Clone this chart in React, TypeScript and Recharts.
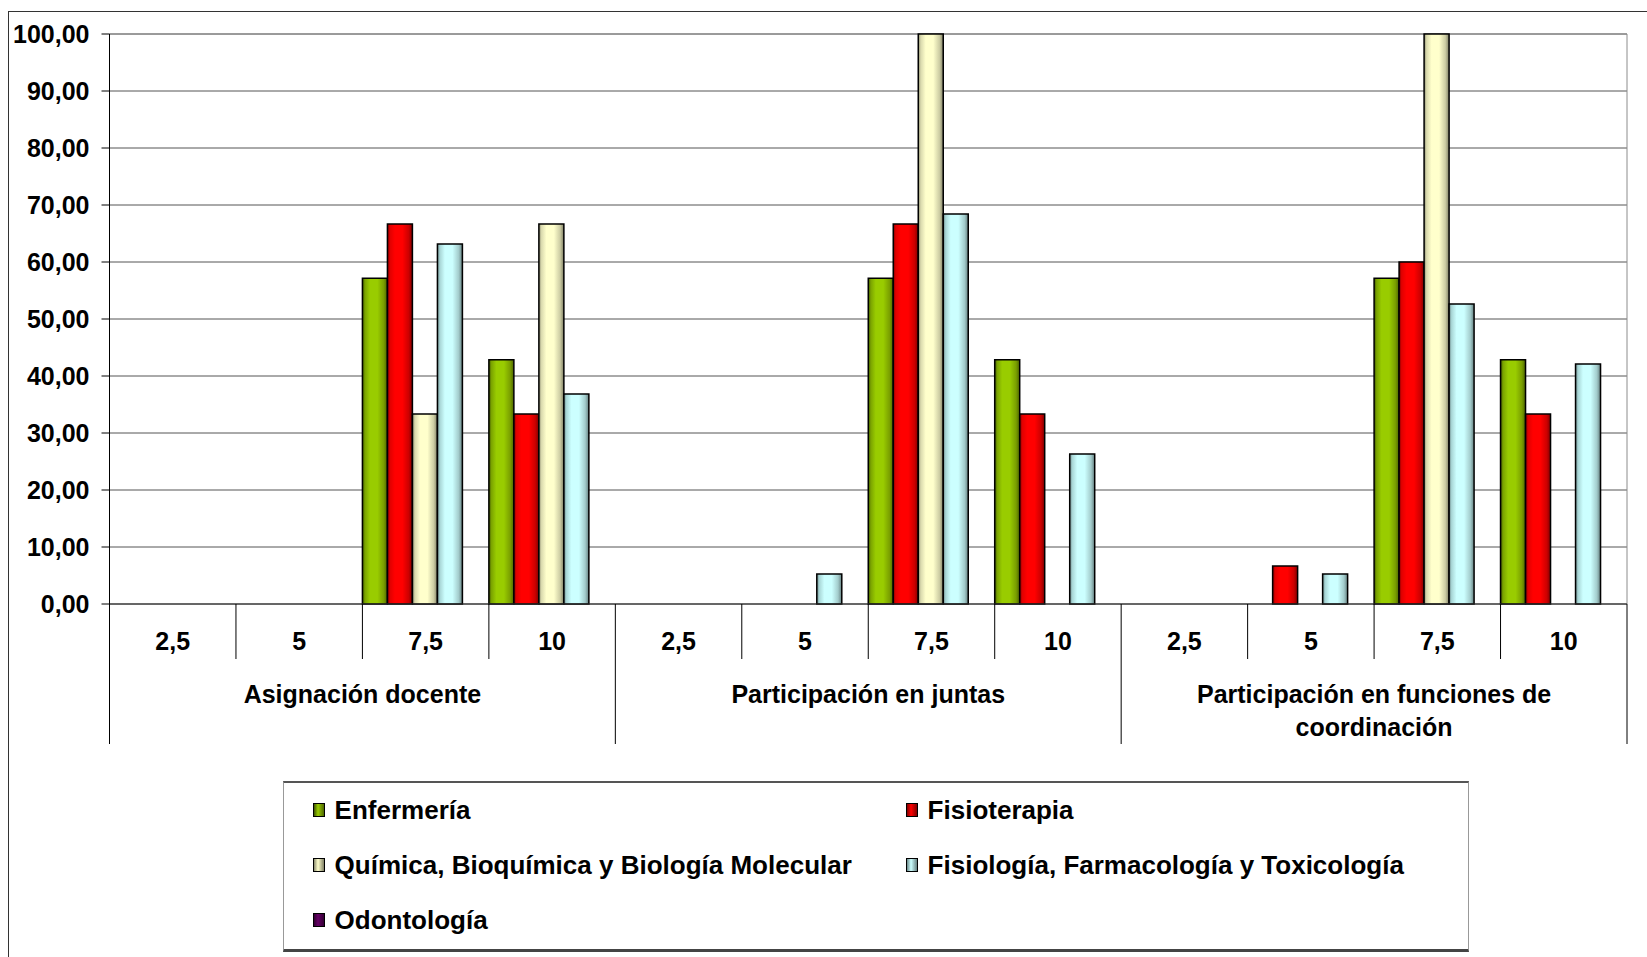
import { BarChart, Bar, XAxis, YAxis, CartesianGrid, Legend, ReferenceArea } from "recharts";

const NIVELES = ["2,5", "5", "7,5", "10"];
const GRUPOS = [
  "Asignación docente",
  "Participación en juntas",
  "Participación en funciones de coordinación",
];
const SERIES_NAMES = [
  "Enfermería",
  "Fisioterapia",
  "Química, Bioquímica y Biología Molecular",
  "Fisiología, Farmacología y Toxicología",
  "Odontología",
];

// 12 values each: 4 niveles x 3 grupos
const ENFERMERIA = [0, 0, 57.14, 42.86, 0, 0, 57.14, 42.86, 0, 0, 57.14, 42.86];
const FISIOTERAPIA = [0, 0, 66.67, 33.33, 0, 0, 66.67, 33.33, 0, 6.67, 60.0, 33.33];
const QUIMICA = [0, 0, 33.33, 66.67, 0, 0, 100, 0, 0, 0, 100, 0];
const FISIOLOGIA = [0, 0, 63.16, 36.84, 0, 5.26, 68.42, 26.32, 0, 5.26, 52.63, 42.11];
const ODONTOLOGIA = [0, 0, 0, 0, 0, 0, 0, 0, 0, 0, 0, 0];

const Y_TICKS = [0, 10, 20, 30, 40, 50, 60, 70, 80, 90, 100];

const SERIES_VALUES = [ENFERMERIA, FISIOTERAPIA, QUIMICA, FISIOLOGIA, ODONTOLOGIA];
const KEYS = ["s0", "s1", "s2", "s3", "s4"];

// gradient stops per series (dark edge -> light -> dark edge)
const STYLES = [
  { stops: ["#3f5500", "#7aa300", "#99cc00", "#99cc00", "#7a9f00", "#4d6600"] },
  { stops: ["#7f0000", "#e00000", "#ff0000", "#ff0000", "#cc0000", "#800000"] },
  { stops: ["#8a8a6e", "#d9d9ad", "#ffffcc", "#ffffcc", "#cccca3", "#808066"] },
  { stops: ["#6b8888", "#a8d6d6", "#ccffff", "#ccffff", "#a3cccc", "#668080"] },
  { stops: ["#330033", "#550055", "#660066", "#660066", "#550055", "#330033"] },
];
const OFFSETS = [0, 0.1, 0.3, 0.6, 0.85, 1];

const data = GRUPOS.flatMap((grupo, gi) =>
  NIVELES.map((nivel, ni) => {
    const row: Record<string, string | number> = { nivel, grupo };
    SERIES_VALUES.forEach((vals, si) => {
      row[KEYS[si]] = vals[gi * NIVELES.length + ni];
    });
    return row;
  })
);

const W = 1647;
const H = 957;
const MARGIN = { top: 34, right: 20, bottom: 213, left: 0 };
const Y_W = 109.5;
const SUB_H = 55;
const GROUP_H = 85;
const PLOT_W = W - MARGIN.left - MARGIN.right - Y_W;
const BAND = PLOT_W / data.length;
const GROUP_BAND = PLOT_W / GRUPOS.length;

const FONT = "'Liberation Sans', Arial, sans-serif";

function wrap(text: string, max: number) {
  const lines: string[] = [];
  let cur = "";
  text.split(" ").forEach((w) => {
    if (cur && (cur + " " + w).length > max) {
      lines.push(cur);
      cur = w;
    } else {
      cur = cur ? cur + " " + w : w;
    }
  });
  if (cur) lines.push(cur);
  return lines;
}

function NivelTick(props: any) {
  const { x, y, payload, index } = props;
  const left = x - BAND / 2;
  return (
    <g>
      {index % NIVELES.length !== 0 && (
        <line x1={left} x2={left} y1={y} y2={y + SUB_H} stroke="#000" strokeWidth={1} />
      )}
      <text
        x={x}
        y={y + 46}
        textAnchor="middle"
        fontFamily={FONT}
        fontWeight="bold"
        fontSize={25}
        fill="#000"
      >
        {payload.value}
      </text>
    </g>
  );
}

function GrupoTick(props: any) {
  const { x, y, payload, index } = props;
  const half = GROUP_BAND / 2;
  const lines = wrap(String(payload.value), 30);
  return (
    <g>
      <line x1={x - half} x2={x - half} y1={y - SUB_H} y2={y + GROUP_H} stroke="#000" strokeWidth={1} />
      {index === GRUPOS.length - 1 && (
        <line x1={x + half} x2={x + half} y1={y - SUB_H} y2={y + GROUP_H} stroke="#000" strokeWidth={1} />
      )}
      <text textAnchor="middle" fontFamily={FONT} fontWeight="bold" fontSize={25} fill="#000">
        {lines.map((l, k) => (
          <tspan key={k} x={x} y={y + 44 + k * 33}>
            {l}
          </tspan>
        ))}
      </text>
    </g>
  );
}

function LegendBox(props: any) {
  const payload = ((props.payload || []) as any[])
    .slice()
    .sort((a, b) => SERIES_NAMES.indexOf(a.value) - SERIES_NAMES.indexOf(b.value));
  return (
    <div
      style={{
        boxSizing: "border-box",
        width: 1186,
        height: 171,
        borderTop: "2px solid #555",
        borderLeft: "1px solid #999",
        borderRight: "1px solid #999",
        borderBottom: "3px solid #444",
        background: "#fff",
        display: "grid",
        gridTemplateColumns: "593px 1fr",
        gridAutoRows: "55px",
        paddingLeft: 29,
        fontFamily: FONT,
        fontWeight: "bold",
        fontSize: 26,
        color: "#000",
      }}
    >
      {payload.map((p) => {
        const st = STYLES[SERIES_NAMES.indexOf(p.value)];
        return (
          <div key={p.value} style={{ display: "flex", alignItems: "center", height: 55 }}>
            <span
              style={{
                display: "inline-block",
                boxSizing: "border-box",
                width: 12,
                height: 14,
                marginRight: 10,
                border: "1.5px solid #000",
                background: `linear-gradient(to right, ${st.stops[0]}, ${st.stops[2]} 40%, ${st.stops[5]})`,
              }}
            />
            <span style={{ whiteSpace: "nowrap" }}>{p.value}</span>
          </div>
        );
      })}
    </div>
  );
}

export default function App() {
  return (
    <div
      style={{
        position: "fixed",
        left: 0,
        top: 0,
        width: W,
        height: H,
        background: "#fff",
        overflow: "hidden",
      }}
    >
      <div
        style={{
          position: "absolute",
          left: 8,
          top: 11,
          width: 1700,
          height: 1000,
          border: "1.5px solid #333",
        }}
      />
      <div style={{ position: "absolute", left: 0, top: 0 }}>
        <BarChart width={W} height={H} data={data} margin={MARGIN} barCategoryGap={0} barGap={0}>
          <defs>
            {STYLES.map((st, i) => (
              <linearGradient key={i} id={`grad-${i}`} x1="0" y1="0" x2="1" y2="0">
                {st.stops.map((c, k) => (
                  <stop key={k} offset={OFFSETS[k]} stopColor={c} />
                ))}
              </linearGradient>
            ))}
          </defs>
          <CartesianGrid vertical={false} stroke="#555" strokeWidth={1} />
          <ReferenceArea y1={0} y2={100} fill="none" stroke="#8c8c8c" strokeWidth={1} ifOverflow="visible" />
          <XAxis
            dataKey="nivel"
            interval={0}
            height={SUB_H}
            tickLine={false}
            tickSize={0}
            tickMargin={0}
            axisLine={{ stroke: "#333", strokeWidth: 1 }}
            tick={<NivelTick />}
          />
          <XAxis
            xAxisId="grupo"
            dataKey="grupo"
            allowDuplicatedCategory={false}
            interval={0}
            height={GROUP_H}
            tickLine={false}
            tickSize={0}
            tickMargin={0}
            axisLine={false}
            tick={<GrupoTick />}
          />
          <YAxis
            domain={[0, 100]}
            ticks={Y_TICKS}
            interval={0}
            width={Y_W}
            tickSize={8}
            tickMargin={12}
            axisLine={{ stroke: "#000", strokeWidth: 1 }}
            tickLine={{ stroke: "#000", strokeWidth: 1 }}
            tickFormatter={(v: number) => v.toFixed(2).replace(".", ",")}
            tick={{ fontFamily: FONT, fontWeight: "bold", fontSize: 25, fill: "#000" }}
          />
          <Legend
            layout="horizontal"
            verticalAlign="middle"
            align="center"
            wrapperStyle={{ left: 282.6, top: 780.5, width: 1186, height: 171 }}
            content={<LegendBox />}
          />
          {KEYS.map((k, i) => (
            <Bar
              key={k}
              dataKey={k}
              name={SERIES_NAMES[i]}
              fill={`url(#grad-${i})`}
              stroke="#000"
              strokeWidth={1.5}
              isAnimationActive={false}
            />
          ))}
        </BarChart>
      </div>
    </div>
  );
}
